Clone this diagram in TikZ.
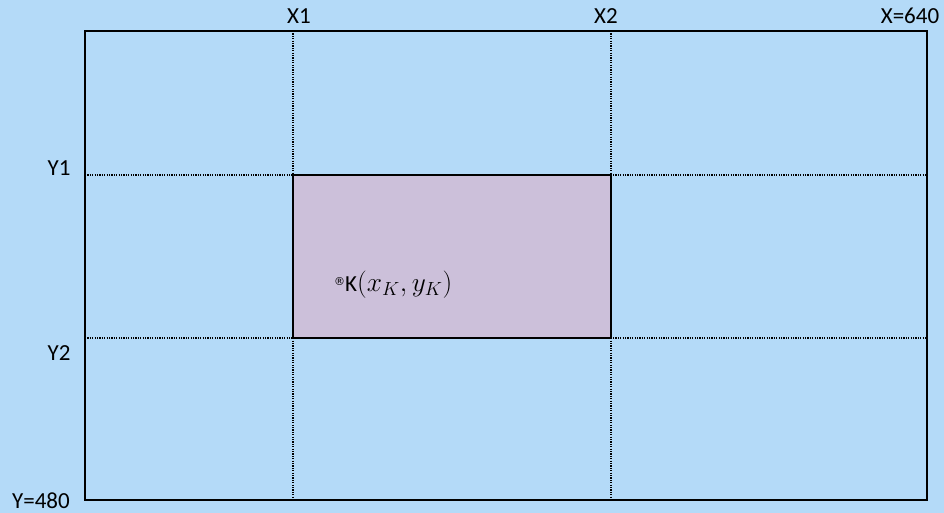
\documentclass[tikz,border=0pt]{standalone}
\usepackage{fontspec}
\setmainfont{Carlito}
\newfontfamily\symfont{DejaVu Sans}
\definecolor{bgblue}{RGB}{180,218,248}
\definecolor{kpurple}{RGB}{204,192,218}
\tikzset{
  frame/.style={draw=black, line width=1.6pt},
  grid/.style={draw=black, line width=1.2pt, dash pattern=on 1.2pt off 1.2pt},
  lbl/.style={font=\fontsize{23}{26}\selectfont, inner sep=0pt}
}
\begin{document}
\begin{tikzpicture}[x=1pt,y=-1pt]
\fill[bgblue] (0,0) rectangle (944,513);
\useasboundingbox (0,0) rectangle (944,513);
\coordinate (TL) at (85,31);
\coordinate (BR) at (927,500);
\fill[kpurple] (293,175) rectangle (611,338);
\draw[grid] (293,31) -- (293,500);
\draw[grid] (611,31) -- (611,500);
\draw[grid] (85,175) -- (927,175);
\draw[grid] (85,338) -- (927,338);
\draw[frame] (293,175) rectangle (611,338);
\draw[frame] (TL) rectangle (BR);
\node[lbl] (x1) at (299,16) {X1};
\node[lbl] (x2) at (606,16) {X2};
\node[lbl] (x3) at (910,16) {X=640};
\node[lbl] (y1) at (59,168) {Y1};
\node[lbl] (y2) at (59,353) {Y2};
\node[lbl] (y3) at (41,501) {Y=480};
\node[lbl, anchor=west] (k) at (334,285) {\raisebox{6pt}{\symfont\fontsize{11}{11}\selectfont ®}K\scalebox{1.1}{$(x_K,y_K)$}};
\end{tikzpicture}
\end{document}
